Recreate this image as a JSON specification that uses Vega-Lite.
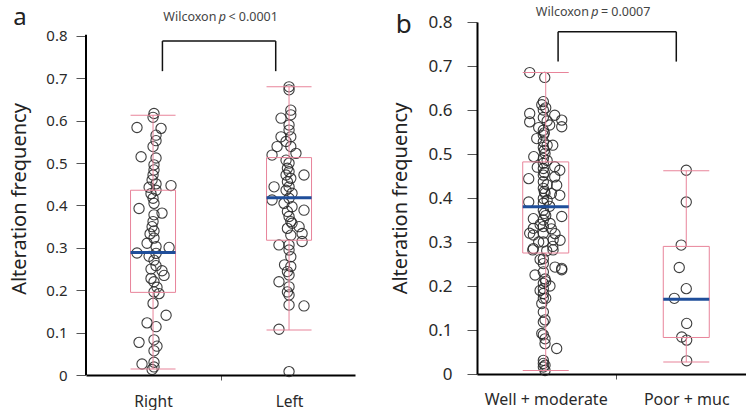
{
  "$schema": "https://vega.github.io/schema/vega-lite/v6.json",
  "padding": {"left": 9, "top": 5, "right": 0, "bottom": 0},
  "spacing": 35,
  "config": {
    "font": "Noto Sans",
    "view": {"stroke": null},
    "tick": {"opacity": 1},
    "scale": {"continuousPadding": 0},
    "axis": {"grid": false, "domainColor": "#000", "domainWidth": 2, "tickColor": "#555", "tickWidth": 1, "labelColor": "#2a2a2a", "titleColor": "#222", "titleFontWeight": "normal", "labelOverlap": false, "labelBound": false, "labelFlush": false}
  },
  "datasets": {
    "ptsA": [
      {"x":1.007,"y":0.617},{"x":1.0,"y":0.608},{"x":0.882,"y":0.584},{"x":1.059,"y":0.582},{"x":1.022,"y":0.566},{"x":1.022,"y":0.553},{"x":1.0,"y":0.539},{"x":0.912,"y":0.515},{"x":1.022,"y":0.512},{"x":1.007,"y":0.496},{"x":1.007,"y":0.484},{"x":1.0,"y":0.472},{"x":0.993,"y":0.46},{"x":1.022,"y":0.451},{"x":0.971,"y":0.443},{"x":1.132,"y":0.447},{"x":1.022,"y":0.436},{"x":0.985,"y":0.428},{"x":1.0,"y":0.417},{"x":0.897,"y":0.393},{"x":1.007,"y":0.405},{"x":1.066,"y":0.382},{"x":1.007,"y":0.378},{"x":1.0,"y":0.362},{"x":0.993,"y":0.35},{"x":1.007,"y":0.34},{"x":0.978,"y":0.333},{"x":1.007,"y":0.323},{"x":0.956,"y":0.311},{"x":1.022,"y":0.303},{"x":1.118,"y":0.301},{"x":0.882,"y":0.288},{"x":1.022,"y":0.287},{"x":0.971,"y":0.28},{"x":1.007,"y":0.271},{"x":1.022,"y":0.258},{"x":0.985,"y":0.25},{"x":1.066,"y":0.246},{"x":1.081,"y":0.235},{"x":0.985,"y":0.228},{"x":1.007,"y":0.22},{"x":1.029,"y":0.207},{"x":1.007,"y":0.196},{"x":1.044,"y":0.192},{"x":1.0,"y":0.169},{"x":1.096,"y":0.141},{"x":0.956,"y":0.123},{"x":1.022,"y":0.114},{"x":0.897,"y":0.077},{"x":1.007,"y":0.083},{"x":1.029,"y":0.068},{"x":1.007,"y":0.057},{"x":0.919,"y":0.026},{"x":1.007,"y":0.03},{"x":1.007,"y":0.019},{"x":0.993,"y":0.013},
      {"x":2.0,"y":0.68},{"x":2.0,"y":0.673},{"x":2.013,"y":0.625},{"x":1.941,"y":0.606},{"x":2.013,"y":0.614},{"x":2.0,"y":0.59},{"x":2.0,"y":0.578},{"x":1.941,"y":0.562},{"x":2.013,"y":0.562},{"x":1.978,"y":0.551},{"x":1.912,"y":0.539},{"x":2.013,"y":0.539},{"x":1.875,"y":0.519},{"x":2.051,"y":0.523},{"x":1.978,"y":0.507},{"x":2.0,"y":0.5},{"x":1.988,"y":0.488},{"x":2.0,"y":0.48},{"x":1.978,"y":0.472},{"x":2.013,"y":0.464},{"x":2.11,"y":0.472},{"x":1.988,"y":0.456},{"x":2.0,"y":0.444},{"x":1.89,"y":0.444},{"x":1.978,"y":0.436},{"x":2.022,"y":0.429},{"x":1.875,"y":0.413},{"x":2.0,"y":0.417},{"x":1.963,"y":0.405},{"x":2.022,"y":0.397},{"x":2.11,"y":0.389},{"x":1.988,"y":0.386},{"x":2.0,"y":0.374},{"x":2.013,"y":0.362},{"x":2.022,"y":0.358},{"x":2.074,"y":0.35},{"x":1.988,"y":0.346},{"x":2.096,"y":0.334},{"x":2.013,"y":0.33},{"x":1.926,"y":0.307},{"x":2.096,"y":0.315},{"x":2.0,"y":0.307},{"x":2.0,"y":0.295},{"x":2.013,"y":0.279},{"x":1.967,"y":0.26},{"x":2.013,"y":0.256},{"x":1.988,"y":0.244},{"x":2.0,"y":0.236},{"x":1.926,"y":0.22},{"x":2.0,"y":0.208},{"x":1.988,"y":0.196},{"x":2.0,"y":0.189},{"x":2.0,"y":0.165},{"x":2.11,"y":0.163},{"x":1.926,"y":0.108},{"x":2.0,"y":0.008}
    ],
    "ptsB": [
      {"x":0.886,"y":0.685},{"x":0.993,"y":0.674},{"x":0.983,"y":0.619},{"x":0.972,"y":0.612},{"x":0.983,"y":0.6},{"x":0.886,"y":0.592},{"x":1.064,"y":0.588},{"x":1.114,"y":0.577},{"x":0.886,"y":0.573},{"x":0.983,"y":0.583},{"x":1.114,"y":0.562},{"x":1.028,"y":0.566},{"x":0.983,"y":0.554},{"x":0.983,"y":0.543},{"x":0.936,"y":0.535},{"x":0.983,"y":0.528},{"x":0.983,"y":0.515},{"x":0.995,"y":0.501},{"x":0.915,"y":0.494},{"x":0.983,"y":0.49},{"x":0.983,"y":0.479},{"x":1.064,"y":0.471},{"x":0.983,"y":0.467},{"x":1.1,"y":0.463},{"x":0.879,"y":0.444},{"x":0.983,"y":0.452},{"x":1.064,"y":0.448},{"x":0.983,"y":0.437},{"x":1.078,"y":0.429},{"x":0.983,"y":0.422},{"x":1.1,"y":0.406},{"x":0.995,"y":0.411},{"x":0.879,"y":0.391},{"x":0.983,"y":0.399},{"x":0.983,"y":0.388},{"x":1.028,"y":0.381},{"x":0.983,"y":0.372},
      {"x":0.912,"y":0.353},{"x":0.983,"y":0.35},{"x":0.912,"y":0.331},{"x":0.912,"y":0.316},{"x":1.031,"y":0.342},{"x":1.066,"y":0.319},{"x":1.102,"y":0.304},{"x":0.983,"y":0.335},{"x":0.983,"y":0.32},{"x":0.912,"y":0.285},{"x":0.983,"y":0.3},{"x":1.007,"y":0.28},{"x":0.983,"y":0.262},{"x":0.983,"y":0.251},{"x":1.066,"y":0.243},{"x":1.114,"y":0.24},{"x":0.924,"y":0.225},{"x":0.983,"y":0.232},{"x":0.995,"y":0.216},{"x":0.983,"y":0.206},{"x":0.983,"y":0.194},{"x":0.983,"y":0.183},{"x":0.983,"y":0.172},{"x":0.972,"y":0.16},{"x":0.983,"y":0.141},{"x":0.983,"y":0.118},{"x":0.972,"y":0.092},{"x":0.995,"y":0.08},{"x":0.995,"y":0.069},{"x":1.078,"y":0.058},{"x":0.983,"y":0.031},{"x":0.983,"y":0.024},{"x":0.983,"y":0.016},{"x":0.995,"y":0.008},
      {"x":0.886,"y":0.32},{"x":1.114,"y":0.358},{"x":1.053,"y":0.305},{"x":0.908,"y":0.282},{"x":1.052,"y":0.282},{"x":1.114,"y":0.237},{"x":1.0,"y":0.21},{"x":0.995,"y":0.123},{"x":1.0,"y":0.172},{"x":0.983,"y":0.089},{"x":0.995,"y":0.02},
      {"x":1.0,"y":0.36},{"x":0.99,"y":0.365},{"x":1.01,"y":0.395},{"x":0.99,"y":0.415},{"x":1.01,"y":0.43},{"x":0.99,"y":0.458},{"x":1.01,"y":0.485},{"x":0.99,"y":0.508},{"x":1.01,"y":0.52},{"x":0.99,"y":0.548},{"x":1.0,"y":0.605},{"x":1.01,"y":0.575},{"x":0.95,"y":0.56},{"x":1.05,"y":0.52},{"x":0.94,"y":0.47},{"x":1.04,"y":0.41},{"x":0.96,"y":0.34},{"x":1.04,"y":0.33},{"x":0.95,"y":0.3},{"x":1.05,"y":0.29},{"x":0.96,"y":0.26},{"x":1.03,"y":0.2},{"x":0.96,"y":0.19},
      {"x":2.0,"y":0.463},{"x":2.0,"y":0.391},{"x":1.964,"y":0.293},{"x":1.95,"y":0.242},{"x":2.0,"y":0.194},{"x":1.915,"y":0.172},{"x":2.003,"y":0.115},{"x":1.968,"y":0.084},{"x":2.003,"y":0.077},{"x":2.003,"y":0.03}
    ],
    "boxA": [
      {"x":1,"lo":0.014,"q1":0.195,"med":0.289,"q3":0.436,"hi":0.613},
      {"x":2,"lo":0.106,"q1":0.318,"med":0.418,"q3":0.513,"hi":0.68}
    ],
    "boxB": [
      {"x":1,"lo":0.008,"q1":0.275,"med":0.38,"q3":0.482,"hi":0.685},
      {"x":2,"lo":0.027,"q1":0.083,"med":0.17,"q3":0.29,"hi":0.462}
    ],
    "brA": [{"xl":1.069,"xr":1.902,"yt":0.788,"yb":0.717}],
    "brB": [{"xl":1.088,"xr":1.929,"yt":0.778,"yb":0.71}],
    "axA": [{"x":0.507,"y0":0,"y1":0.803}],
    "txtA": [{"x":0.022,"y":0.826,"t":"a","wx":1.51,"wy":0.844,"pre":"Wilcoxon","p":"p","post":"< 0.0001"}],
    "txtB": [{"x":-0.011,"y":0.775,"t":"b","wx":1.35,"wy":0.822,"pre":"Wilcoxon","p":"p","post":"= 0.0007"}]
  },
  "hconcat": [
    {
      "width": 269,
      "height": 353,
      "layer": [
        {"data": {"name": "ptsA"}, "mark": {"type": "point", "shape": "circle", "filled": false, "stroke": "#2a2a2a", "strokeWidth": 1.1, "opacity": 0.9, "size": 105},
          "encoding": {
            "x": {"field": "x", "type": "quantitative", "scale": {"domain": [0.507, 2.485], "nice": false, "zero": false, "padding": 0},
              "axis": {"values": [1, 1.5, 2], "labelExpr": "datum.value == 1 ? 'Right' : datum.value == 2 ? 'Left' : ''", "tickSize": 5, "tickOpacity": {"condition": {"test": "datum.value == 1.5", "value": 1}, "value": 0}, "labelFontSize": 15.5, "labelPadding": 14, "title": null}},
            "y": {"field": "y", "type": "quantitative", "scale": {"domain": [0, 0.833], "nice": false, "zero": false, "padding": 0},
              "axis": {"values": [0, 0.1, 0.2, 0.3, 0.4, 0.5, 0.6, 0.7, 0.8], "labelExpr": "datum.value == 0 ? '0' : format(datum.value, '.1f')", "domain": false, "tickSize": 10, "labelFontSize": 15, "labelPadding": 9, "title": "Alteration frequency", "titleFontSize": 20, "titlePadding": 16}}
          }},
        {"data": {"name": "brA"}, "mark": {"type": "rule", "color": "#111", "strokeWidth": 1.5}, "encoding": {"x": {"field": "xl", "type": "quantitative"}, "x2": {"field": "xr"}, "y": {"field": "yt", "type": "quantitative"}}},
        {"data": {"name": "brA"}, "mark": {"type": "rule", "color": "#111", "strokeWidth": 1.5}, "encoding": {"x": {"field": "xl", "type": "quantitative"}, "y": {"field": "yb", "type": "quantitative"}, "y2": {"field": "yt"}}},
        {"data": {"name": "brA"}, "mark": {"type": "rule", "color": "#111", "strokeWidth": 1.5}, "encoding": {"x": {"field": "xr", "type": "quantitative"}, "y": {"field": "yb", "type": "quantitative"}, "y2": {"field": "yt"}}},
        {"data": {"name": "boxA"}, "mark": {"type": "rule", "color": "#e8849a", "strokeWidth": 1}, "encoding": {"x": {"field": "x", "type": "quantitative"}, "y": {"field": "lo", "type": "quantitative"}, "y2": {"field": "q1"}}},
        {"data": {"name": "boxA"}, "mark": {"type": "rule", "color": "#e8849a", "strokeWidth": 1}, "encoding": {"x": {"field": "x", "type": "quantitative"}, "y": {"field": "q3", "type": "quantitative"}, "y2": {"field": "hi"}}},
        {"data": {"name": "boxA"}, "mark": {"type": "tick", "orient": "horizontal", "color": "#e8849a", "thickness": 1, "size": 45}, "encoding": {"x": {"field": "x", "type": "quantitative"}, "y": {"field": "lo", "type": "quantitative"}}},
        {"data": {"name": "boxA"}, "mark": {"type": "tick", "orient": "horizontal", "color": "#e8849a", "thickness": 1, "size": 45}, "encoding": {"x": {"field": "x", "type": "quantitative"}, "y": {"field": "hi", "type": "quantitative"}}},
        {"data": {"name": "boxA"}, "mark": {"type": "bar", "fill": "#fff", "fillOpacity": 0, "stroke": "#e8849a", "strokeWidth": 1, "size": 45}, "encoding": {"x": {"field": "x", "type": "quantitative"}, "y": {"field": "q1", "type": "quantitative"}, "y2": {"field": "q3"}}},
        {"data": {"name": "boxA"}, "mark": {"type": "tick", "orient": "horizontal", "color": "#1f4e9a", "thickness": 3, "size": 45}, "encoding": {"x": {"field": "x", "type": "quantitative"}, "y": {"field": "med", "type": "quantitative"}}},
        {"data": {"name": "axA"}, "mark": {"type": "rule", "color": "#000", "strokeWidth": 2}, "encoding": {"x": {"field": "x", "type": "quantitative"}, "y": {"field": "y0", "type": "quantitative"}, "y2": {"field": "y1"}}},
        {"data": {"name": "txtA"}, "mark": {"type": "text", "fontSize": 24, "align": "center", "baseline": "alphabetic", "color": "#222"}, "encoding": {"x": {"field": "x", "type": "quantitative"}, "y": {"field": "y", "type": "quantitative"}, "text": {"field": "t"}}},
        {"data": {"name": "txtA"}, "mark": {"type": "text", "fontSize": 12.5, "align": "right", "baseline": "middle", "dx": -6, "color": "#444"}, "encoding": {"x": {"field": "wx", "type": "quantitative"}, "y": {"field": "wy", "type": "quantitative"}, "text": {"field": "pre"}}},
        {"data": {"name": "txtA"}, "mark": {"type": "text", "fontSize": 12.5, "align": "center", "baseline": "middle", "fontStyle": "italic", "color": "#444"}, "encoding": {"x": {"field": "wx", "type": "quantitative"}, "y": {"field": "wy", "type": "quantitative"}, "text": {"field": "p"}}},
        {"data": {"name": "txtA"}, "mark": {"type": "text", "fontSize": 12.5, "align": "left", "baseline": "middle", "dx": 6, "color": "#444"}, "encoding": {"x": {"field": "wx", "type": "quantitative"}, "y": {"field": "wy", "type": "quantitative"}, "text": {"field": "post"}}}
      ]
    },
    {
      "width": 269,
      "height": 352,
      "layer": [
        {"data": {"name": "ptsB"}, "mark": {"type": "point", "shape": "circle", "filled": false, "stroke": "#2a2a2a", "strokeWidth": 1.1, "opacity": 0.9, "size": 105},
          "encoding": {
            "x": {"field": "x", "type": "quantitative", "scale": {"domain": [0.511, 2.425], "nice": false, "zero": false, "padding": 0},
              "axis": {"values": [1, 1.5, 2], "labelExpr": "datum.value == 1 ? 'Well + moderate' : datum.value == 2 ? 'Poor + muc' : ''", "tickSize": 5, "tickOpacity": {"condition": {"test": "datum.value == 1.5", "value": 1}, "value": 0}, "labelFontSize": 16, "labelPadding": 12, "title": null}},
            "y": {"field": "y", "type": "quantitative", "scale": {"domain": [0, 0.8], "nice": false, "zero": false, "padding": 0},
              "axis": {"values": [0, 0.05, 0.1, 0.15, 0.2, 0.25, 0.3, 0.35, 0.4, 0.45, 0.5, 0.55, 0.6, 0.65, 0.7, 0.75, 0.8], "labelExpr": "round(datum.value * 100) % 10 == 0 ? (datum.value == 0 ? '0' : format(datum.value, '.1f')) : ''", "tickSize": {"condition": {"test": "round(datum.value * 100) % 10 == 0", "value": 10}, "value": 7}, "labelFontSize": 17, "labelPadding": 15, "title": "Alteration frequency", "titleFontSize": 20, "titlePadding": 17}}
          }},
        {"data": {"name": "brB"}, "mark": {"type": "rule", "color": "#111", "strokeWidth": 1.5}, "encoding": {"x": {"field": "xl", "type": "quantitative"}, "x2": {"field": "xr"}, "y": {"field": "yt", "type": "quantitative"}}},
        {"data": {"name": "brB"}, "mark": {"type": "rule", "color": "#111", "strokeWidth": 1.5}, "encoding": {"x": {"field": "xl", "type": "quantitative"}, "y": {"field": "yb", "type": "quantitative"}, "y2": {"field": "yt"}}},
        {"data": {"name": "brB"}, "mark": {"type": "rule", "color": "#111", "strokeWidth": 1.5}, "encoding": {"x": {"field": "xr", "type": "quantitative"}, "y": {"field": "yb", "type": "quantitative"}, "y2": {"field": "yt"}}},
        {"data": {"name": "boxB"}, "mark": {"type": "rule", "color": "#e8849a", "strokeWidth": 1}, "encoding": {"x": {"field": "x", "type": "quantitative"}, "y": {"field": "lo", "type": "quantitative"}, "y2": {"field": "q1"}}},
        {"data": {"name": "boxB"}, "mark": {"type": "rule", "color": "#e8849a", "strokeWidth": 1}, "encoding": {"x": {"field": "x", "type": "quantitative"}, "y": {"field": "q3", "type": "quantitative"}, "y2": {"field": "hi"}}},
        {"data": {"name": "boxB"}, "mark": {"type": "tick", "orient": "horizontal", "color": "#e8849a", "thickness": 1, "size": 46}, "encoding": {"x": {"field": "x", "type": "quantitative"}, "y": {"field": "lo", "type": "quantitative"}}},
        {"data": {"name": "boxB"}, "mark": {"type": "tick", "orient": "horizontal", "color": "#e8849a", "thickness": 1, "size": 46}, "encoding": {"x": {"field": "x", "type": "quantitative"}, "y": {"field": "hi", "type": "quantitative"}}},
        {"data": {"name": "boxB"}, "mark": {"type": "bar", "fill": "#fff", "fillOpacity": 0, "stroke": "#e8849a", "strokeWidth": 1, "size": 46}, "encoding": {"x": {"field": "x", "type": "quantitative"}, "y": {"field": "q1", "type": "quantitative"}, "y2": {"field": "q3"}}},
        {"data": {"name": "boxB"}, "mark": {"type": "tick", "orient": "horizontal", "color": "#1f4e9a", "thickness": 3, "size": 46}, "encoding": {"x": {"field": "x", "type": "quantitative"}, "y": {"field": "med", "type": "quantitative"}}},
        {"data": {"name": "txtB"}, "mark": {"type": "text", "fontSize": 26, "align": "center", "baseline": "alphabetic", "color": "#222"}, "encoding": {"x": {"field": "x", "type": "quantitative"}, "y": {"field": "y", "type": "quantitative"}, "text": {"field": "t"}}},
        {"data": {"name": "txtB"}, "mark": {"type": "text", "fontSize": 12.5, "align": "right", "baseline": "middle", "dx": -6, "color": "#444"}, "encoding": {"x": {"field": "wx", "type": "quantitative"}, "y": {"field": "wy", "type": "quantitative"}, "text": {"field": "pre"}}},
        {"data": {"name": "txtB"}, "mark": {"type": "text", "fontSize": 12.5, "align": "center", "baseline": "middle", "fontStyle": "italic", "color": "#444"}, "encoding": {"x": {"field": "wx", "type": "quantitative"}, "y": {"field": "wy", "type": "quantitative"}, "text": {"field": "p"}}},
        {"data": {"name": "txtB"}, "mark": {"type": "text", "fontSize": 12.5, "align": "left", "baseline": "middle", "dx": 6, "color": "#444"}, "encoding": {"x": {"field": "wx", "type": "quantitative"}, "y": {"field": "wy", "type": "quantitative"}, "text": {"field": "post"}}}
      ]
    }
  ]
}
